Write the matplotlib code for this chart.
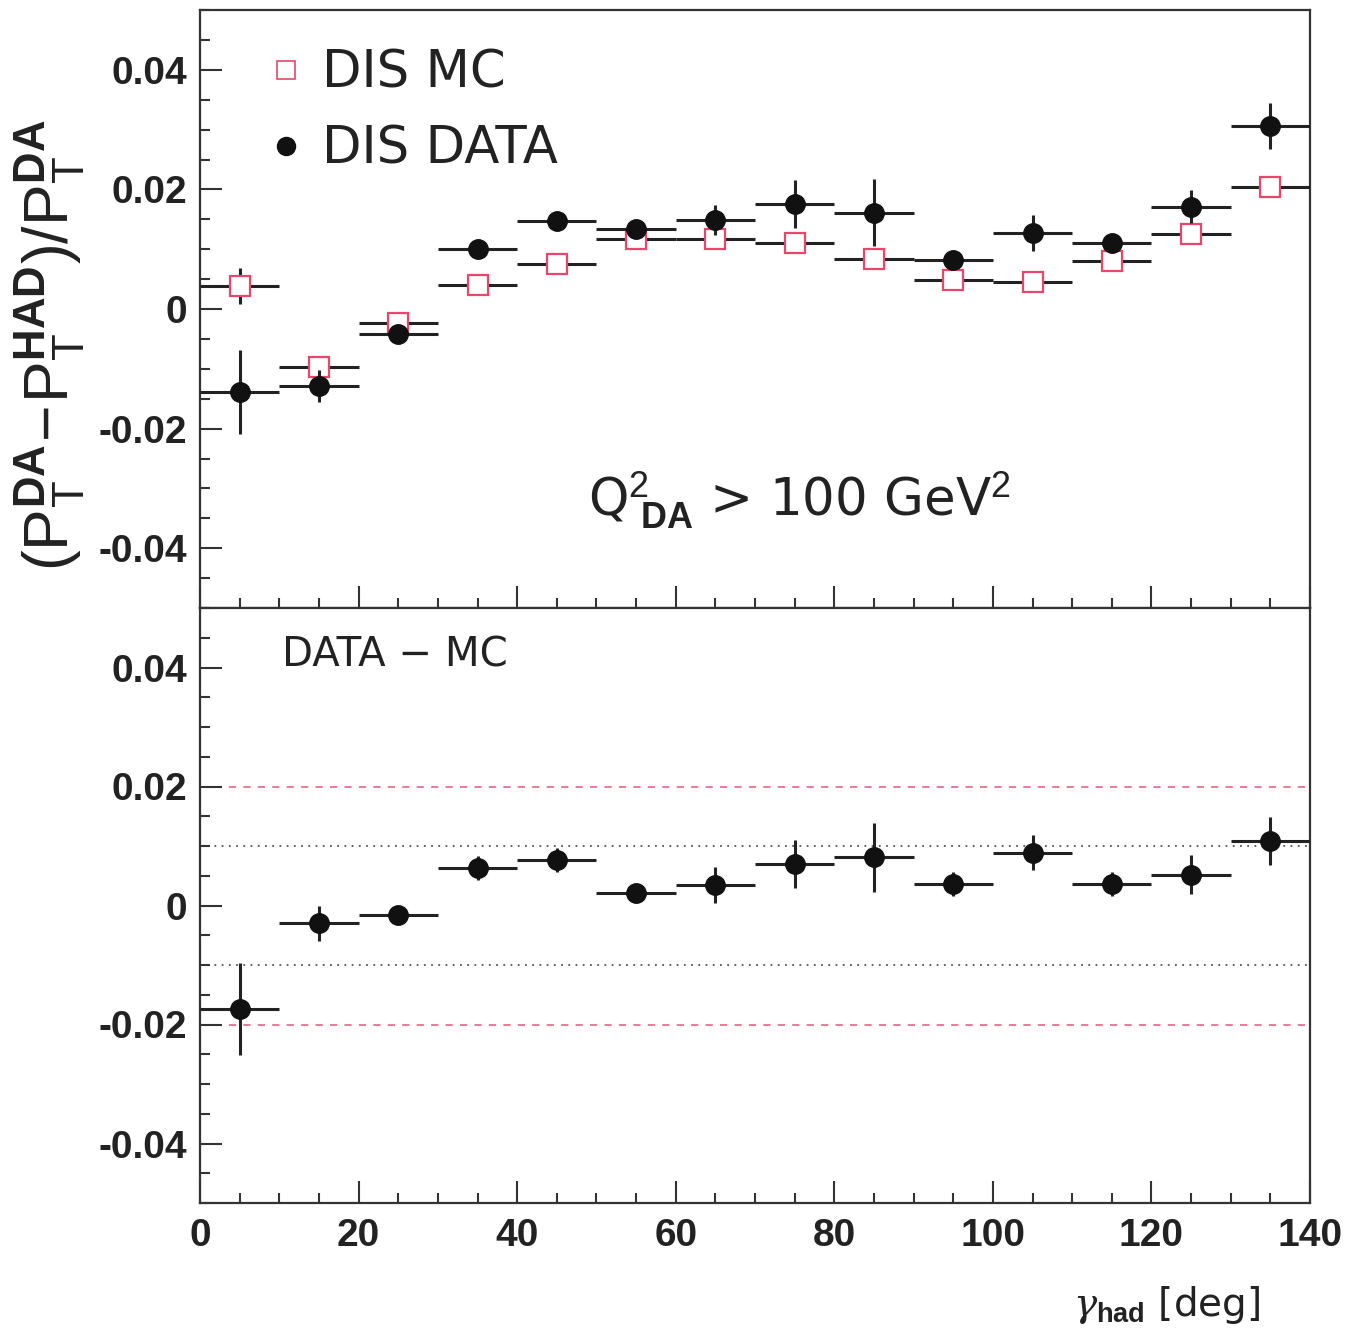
import matplotlib
matplotlib.use('Agg')
import matplotlib.pyplot as plt
from matplotlib.lines import Line2D
from matplotlib.ticker import MultipleLocator, FixedFormatter, FixedLocator

plt.rcParams['font.family'] = ['DejaVu Sans']
plt.rcParams['mathtext.fontset'] = 'custom'
plt.rcParams['mathtext.rm'] = 'Liberation Sans'
plt.rcParams['mathtext.it'] = 'DejaVu Serif:italic'
plt.rcParams['mathtext.bf'] = 'Liberation Sans:bold'

# --- data ---
gamma = [5, 15, 25, 35, 45, 55, 65, 75, 85, 95, 105, 115, 125, 135]
half_bin = [5, 5, 5, 5, 5, 5, 5, 5, 5, 5, 5, 5, 5, 5]

mc = [0.0039, -0.0097, -0.0023, 0.0040, 0.0075, 0.0117, 0.0117,
      0.0110, 0.0084, 0.0049, 0.0045, 0.0080, 0.0125, 0.0204]
mc_err = [0.003, 0.001, 0.001, 0.001, 0.001, 0.001, 0.001,
          0.001, 0.001, 0.001, 0.001, 0.001, 0.001, 0.001]

data = [-0.0139, -0.0129, -0.0042, 0.0100, 0.0147, 0.0134, 0.0149,
        0.0176, 0.0161, 0.0082, 0.0127, 0.0111, 0.0171, 0.0306]
data_err = [0.007, 0.0027, 0.001, 0.001, 0.0012, 0.001, 0.0025,
            0.004, 0.0056, 0.001, 0.003, 0.001, 0.0028, 0.0038]

diff = [-0.0174, -0.0030, -0.0016, 0.0063, 0.0076, 0.0021, 0.0034,
        0.0070, 0.0081, 0.0036, 0.0089, 0.0036, 0.0052, 0.0108]
diff_err = [0.0077, 0.0029, 0.001, 0.002, 0.002, 0.001, 0.003,
            0.004, 0.0058, 0.002, 0.003, 0.002, 0.0033, 0.004]

band_outer = [-0.02, 0.02]
band_inner = [-0.01, 0.01]

ytick_vals = [-0.04, -0.02, 0, 0.02, 0.04]
ytick_labels = ['-0.04', '-0.02', '0', '0.02', '0.04']
xtick_vals = [0, 20, 40, 60, 80, 100, 120, 140]

W, H = 1347, 1334
fig = plt.figure(figsize=(W / 100, H / 100), dpi=100)
ax1 = fig.add_axes([200 / W, 1 - 608 / H, 1110 / W, 598 / H])
ax2 = fig.add_axes([200 / W, 1 - 1203 / H, 1110 / W, 595 / H])

line_col = '#222222'
red = '#e8466a'


def style(ax, show_xlabels):
    ax.set_xlim(0, 140)
    ax.set_ylim(-0.05, 0.05)
    ax.yaxis.set_major_locator(FixedLocator(ytick_vals))
    ax.yaxis.set_major_formatter(FixedFormatter(ytick_labels))
    ax.yaxis.set_minor_locator(MultipleLocator(0.005))
    ax.xaxis.set_major_locator(FixedLocator(xtick_vals))
    ax.xaxis.set_minor_locator(MultipleLocator(5))
    ax.tick_params(which='both', direction='in', top=False, right=False,
                   color='#333333', width=1.5)
    ax.tick_params(which='major', length=16)
    ax.tick_params(which='minor', length=7)
    ax.tick_params(axis='y', which='major', pad=9)
    ax.tick_params(axis='x', which='major', pad=11)
    for s in ax.spines.values():
        s.set_linewidth(1.6)
        s.set_color('#333333')
    for lab in ax.get_yticklabels():
        lab.set_fontfamily('Liberation Sans')
        lab.set_fontweight('bold')
        lab.set_fontsize(28)
        lab.set_color('#222222')
    if show_xlabels:
        for lab in ax.get_xticklabels():
            lab.set_fontfamily('Liberation Sans')
            lab.set_fontweight('bold')
            lab.set_fontsize(28)
            lab.set_color('#222222')
    else:
        ax.set_xticklabels([])


# --- top panel ---
ax1.errorbar(gamma, mc, xerr=half_bin, yerr=mc_err, fmt='s', ms=15,
             mfc='white', mec=red, mew=1.6, ecolor=line_col, elinewidth=2.2,
             capsize=0, zorder=3)
ax1.errorbar(gamma, data, xerr=half_bin, yerr=data_err, fmt='o', ms=14,
             color='#111111', ecolor=line_col, elinewidth=2.2, capsize=0,
             zorder=4)
style(ax1, False)

handles = [Line2D([], [], marker='s', ls='none', ms=13, mfc='white', mec=red, mew=1.2),
           Line2D([], [], marker='o', ls='none', ms=13, color='#111111')]
ax1.legend(handles, ['DIS MC', 'DIS DATA'], loc='upper left',
           bbox_to_anchor=(0.066, 0.935), frameon=False, fontsize=37,
           handlelength=0.5, handletextpad=0.45, labelspacing=0.5,
           borderpad=0, borderaxespad=0, labelcolor='#222222')

ax1.text(0.54, 0.18, r'Q$^2_{\ \mathbf{DA}}$ > 100 GeV$^2$', transform=ax1.transAxes,
         ha='center', va='center', fontsize=37, color='#222222')

# --- bottom panel ---
for yv in band_outer:
    ax2.axhline(yv, color='#e8708c', ls=(0, (4, 4)), lw=1.3, zorder=1)
for yv in band_inner:
    ax2.axhline(yv, color='#555555', ls=(0, (1, 3)), lw=1.3, zorder=1)
ax2.errorbar(gamma, diff, xerr=half_bin, yerr=diff_err, fmt='o', ms=14,
             color='#111111', ecolor=line_col, elinewidth=2.2, capsize=0,
             zorder=4)
style(ax2, True)
ax2.text(0.074, 0.921, 'DATA \u2212 MC', transform=ax2.transAxes,
         ha='left', va='center', fontsize=29, color='#222222')

# --- axis titles ---
fig.text(50 / W, 1 - 345 / H,
         r'$(\mathrm{P}_\mathrm{T}^{\mathbf{DA}}\!-\!\mathrm{P}_\mathrm{T}^{\mathbf{HAD}})/\mathrm{P}_\mathrm{T}^{\mathbf{DA}}$',
         rotation=90, ha='center', va='center', fontsize=45, color='#222222')
fig.text(1260 / W, 1 - 1305 / H, r'$\mathit{\gamma}_{\mathbf{had}}$ [deg]',
         ha='right', va='center', fontsize=28, color='#222222')

fig.savefig('out.png', dpi=100)
